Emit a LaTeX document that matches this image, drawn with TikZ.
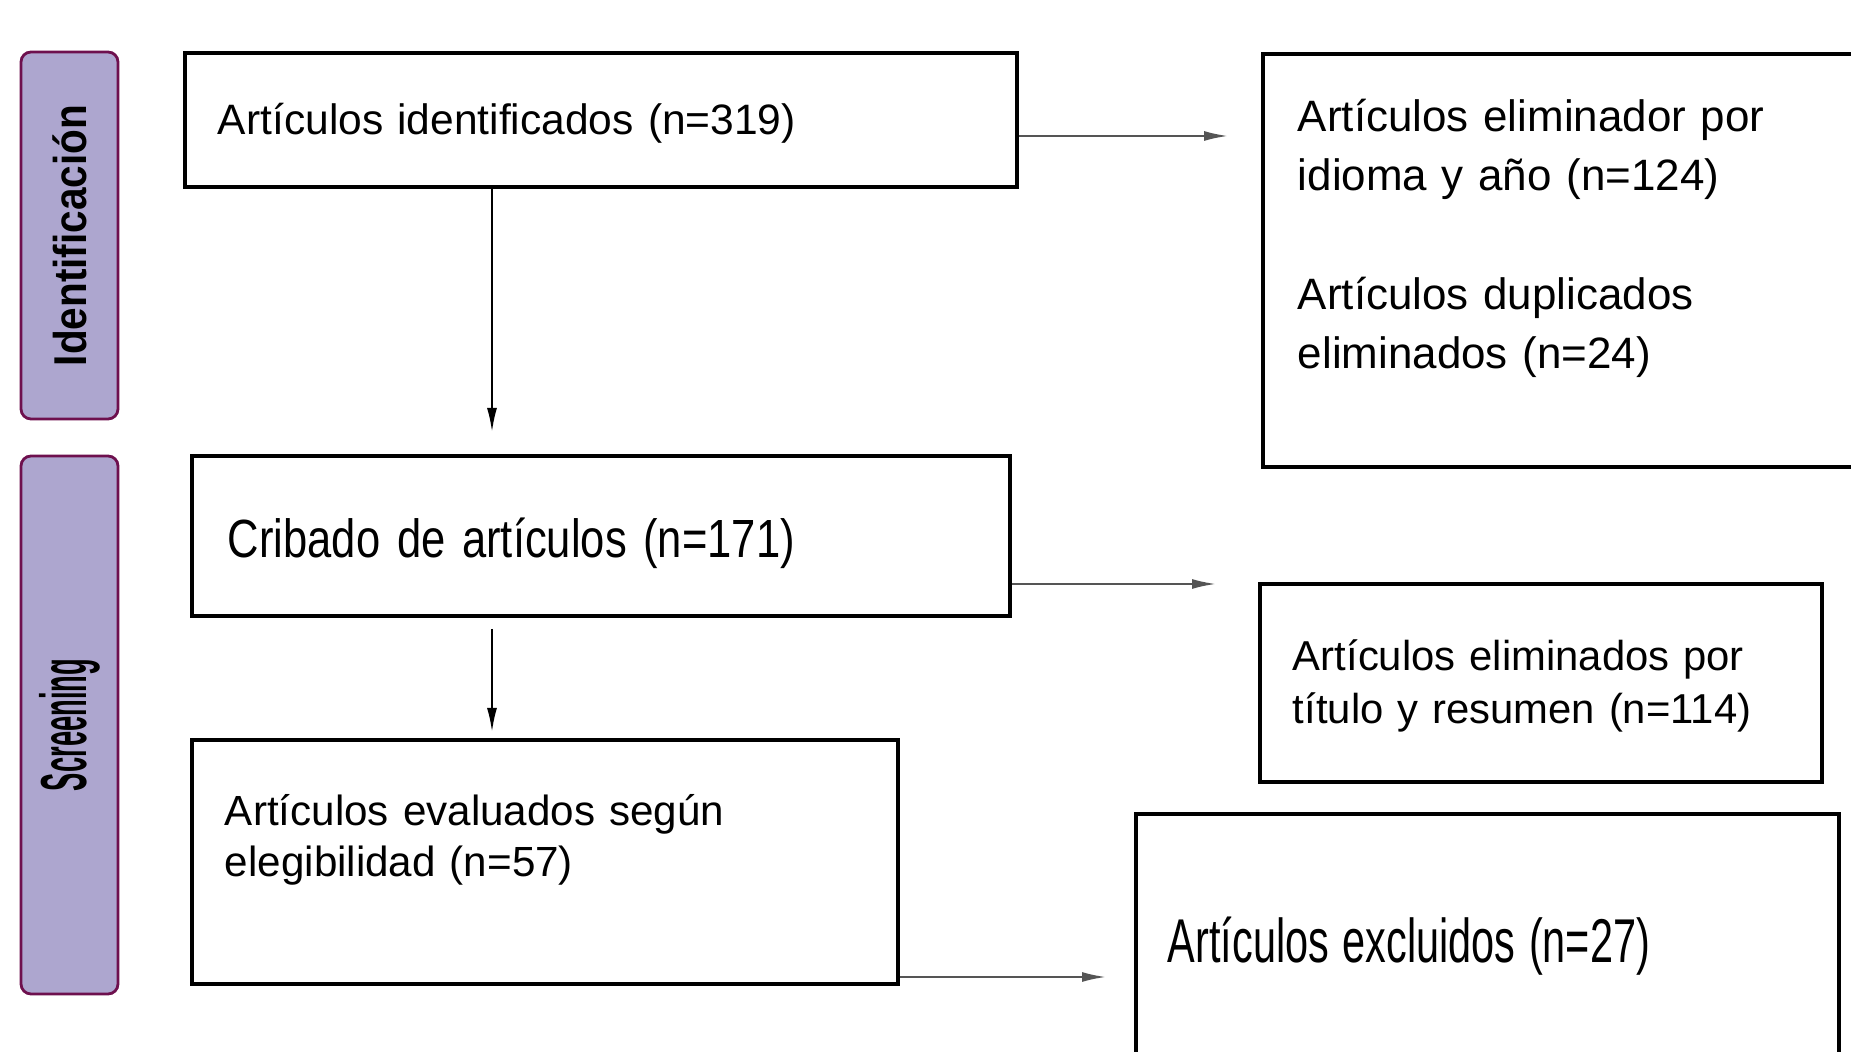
\documentclass[tikz,border=0pt]{standalone}
\usepackage{fontspec}
\setmainfont{Liberation Sans}
\newfontfamily\narrowfont[FakeStretch=0.81]{Liberation Sans}
\newfontfamily\condfont[FakeStretch=0.67]{Liberation Sans}
\newfontfamily\bandfont[FakeStretch=0.88]{Liberation Sans}
\newfontfamily\bandcondfont[FakeStretch=0.42]{Liberation Sans}
\usetikzlibrary{arrows.meta}

\definecolor{bandFill}{RGB}{173,166,207}
\definecolor{bandLine}{RGB}{110,16,78}
\definecolor{arrowGrey}{RGB}{85,85,85}

\tikzset{
	flowBox/.style={rectangle, draw=black, line width=1.1pt, fill=white, anchor=north west, inner ysep=0pt, align=left},
	phaseBand/.style={rectangle, rounded corners=0.1cm, draw=bandLine, line width=0.8pt, fill=bandFill, rotate=90, inner sep=0pt, minimum height=0.97cm},
	flowArrow/.style={-{Latex[length=0.24cm, width=0.1cm]}, line width=0.6pt}
}

\begin{document}
\begin{tikzpicture}
		
		\path[use as bounding box, fill=white] (0,0) rectangle (18.51,-10.52);
		
		% Phase bands
		\node (bandIdent) at (0.695,-2.355) [phaseBand, minimum width=3.67cm]{\bandfont\bfseries\fontsize{13.1}{15}\selectfont Identificación};
		\node (bandScreen) at (0.695,-7.25) [phaseBand, minimum width=5.38cm]{\bandcondfont\bfseries\fontsize{18.5}{20}\selectfont Screening};
		
		% Main column
		\node (boxIdentified) at (1.83,-0.51) [flowBox, inner xsep=0.33cm, text width=7.66cm, text height=0.82cm, text depth=0.52cm, font=\fontsize{12.1}{14}\selectfont]{Artículos identificados (n=319)};
		\node (boxScreened) at (1.90,-4.54) [flowBox, inner xsep=0.36cm, text width=7.46cm, text height=1.02cm, text depth=0.58cm, font=\narrowfont\fontsize{15.3}{18}\selectfont]{\spaceskip=0.31em Cribado de artículos (n=171)};
		\node (boxEvaluated) at (1.90,-7.38) [flowBox, inner xsep=0.33cm, text width=6.40cm, text height=0.86cm, text depth=1.58cm, font=\fontsize{12}{14.5}\selectfont]{Artículos evaluados según\\elegibilidad (n=57)};
		
		% Removed articles
		\node (boxLanguage) at (12.61,-0.52) [flowBox, inner xsep=0.35cm, text width=6.0cm, text height=0.78cm, text depth=3.35cm, font=\fontsize{12.5}{16.8}\selectfont]{Artículos eliminador por\\idioma y año (n=124)\\[16.8pt]Artículos duplicados\\eliminados (n=24)};
		\node (boxTitle) at (12.58,-5.82) [flowBox, inner xsep=0.33cm, text width=4.96cm, text height=0.87cm, text depth=1.11cm, font=\fontsize{11.9}{15.1}\selectfont]{Artículos eliminados por\\título y resumen (n=114)};
		\node (boxExcluded) at (11.34,-8.12) [flowBox, inner xsep=0.32cm, text width=6.39cm, text height=1.49cm, text depth=1.2cm, font=\condfont\fontsize{17.6}{20}\selectfont]{\spaceskip=0.22em Artículos excluidos (n=27)};
		
		% Arrow ends
		\coordinate (identEnd) at (4.92,-4.32);
		\coordinate (languageEnd) at (12.28,-1.36);
		\coordinate (titleEnd) at (12.16,-5.84);
		\coordinate (screenStart) at (4.92,-6.29);
		\coordinate (screenEnd) at (4.92,-7.32);
		\coordinate (excludedEnd) at (11.06,-9.77);
		
		% Linking the boxes
		\draw[flowArrow] (boxIdentified.south -| identEnd) -- (identEnd);
		\draw[flowArrow, arrowGrey] (boxIdentified.east |- languageEnd) -- (languageEnd);
		\draw[flowArrow, arrowGrey] (boxScreened.east |- titleEnd) -- (titleEnd);
		\draw[flowArrow] (screenStart) -- (screenEnd);
		\draw[flowArrow, arrowGrey] (boxEvaluated.east |- excludedEnd) -- (excludedEnd);
		
\end{tikzpicture}
\end{document}
